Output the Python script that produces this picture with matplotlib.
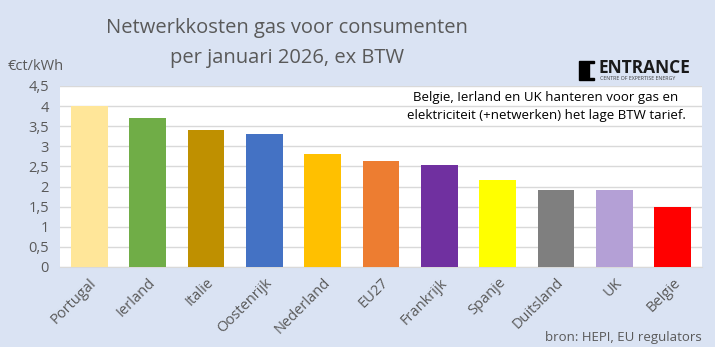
import matplotlib.pyplot as plt
from matplotlib.patches import Polygon

# Data
landen = ['Portugal', 'Ierland', 'Italie', 'Oostenrijk', 'Nederland', 'EU27',
          'Frankrijk', 'Spanje', 'Duitsland', 'UK', 'Belgie']
kosten = [4.0, 3.7, 3.4, 3.3, 2.8, 2.64, 2.54, 2.16, 1.92, 1.92, 1.5]
kleuren = ['#FFE699', '#70AD47', '#BF9000', '#4472C4', '#FFC000', '#ED7D31',
           '#7030A0', '#FFFF00', '#7F7F7F', '#B4A0D6', '#FF0000']
yticks = [0, 0.5, 1, 1.5, 2, 2.5, 3, 3.5, 4, 4.5]
ytick_labels = ['0', '0,5', '1', '1,5', '2', '2,5', '3', '3,5', '4', '4,5']

plt.rcParams['font.family'] = ['Open Sans', 'DejaVu Sans']
bg = '#DAE3F3'
grijs = '#595959'

fig = plt.figure(figsize=(7.15, 3.47), dpi=100)
fig.patch.set_facecolor(bg)
W, H = 715, 347
ax = fig.add_axes([60 / W, 1 - 267 / H, 642 / W, 181 / H])
ax.set_facecolor('white')

x = range(len(landen))
ax.bar(x, kosten, width=0.63, color=kleuren, zorder=3)
ax.set_xlim(-0.5, len(landen) - 0.5)
ax.set_ylim(0, 4.5)
ax.set_yticks(yticks)
ax.set_yticklabels(ytick_labels, color=grijs, fontsize=10.5)
ax.yaxis.grid(True, color='#D9D9D9', linewidth=1, zorder=0)
ax.set_xticks(list(x))
ax.set_xticklabels(landen, rotation=45, ha='right', rotation_mode='anchor',
                   color=grijs, fontsize=10.5)
ax.tick_params(length=0)
ax.tick_params(axis='y', pad=8)
ax.tick_params(axis='x', pad=6)
for s in ['top', 'right', 'left']:
    ax.spines[s].set_visible(False)
ax.spines['bottom'].set_color('#D9D9D9')

# Title
fig.text(287 / W, 1 - 28 / H, 'Netwerkkosten gas voor consumenten',
         ha='center', va='center', fontsize=14.5, color=grijs)
fig.text(287 / W, 1 - 58 / H, 'per januari 2026, ex BTW',
         ha='center', va='center', fontsize=14.5, color=grijs)

# Unit
fig.text(8 / W, 1 - 67 / H, '€ct/kWh', ha='left', va='center',
         fontsize=10.5, color=grijs)

# Note
fig.text(546 / W, 1 - 106 / H,
         'Belgie, Ierland en UK hanteren voor gas en\nelektriciteit (+netwerken) het lage BTW tarief.',
         ha='center', va='center', fontsize=9.5, color='black', linespacing=1.5)

# Logo
icon = Polygon([(579 / W, 1 - 61 / H), (594 / W, 1 - 61 / H), (594 / W, 1 - 63 / H),
                (589 / W, 1 - 63 / H), (589 / W, 1 - 78 / H), (594 / W, 1 - 78 / H),
                (594 / W, 1 - 80 / H), (579 / W, 1 - 80 / H)],
               closed=True, transform=fig.transFigure, color='black')
fig.patches.append(icon)
fig.text(599 / W, 1 - 68 / H, 'ENTRANCE', ha='left', va='center',
         fontsize=12.5, fontweight='bold', color='#1a1a1a')
fig.text(600 / W, 1 - 79 / H, 'CENTRE OF EXPERTISE ENERGY', ha='left', va='center',
         fontsize=3.8, color='#404040')

# Source
fig.text(702 / W, 1 - 338 / H, 'bron: HEPI, EU regulators', ha='right', va='center',
         fontsize=9.5, color=grijs)

fig.savefig('out.png', dpi=100, facecolor=bg)
